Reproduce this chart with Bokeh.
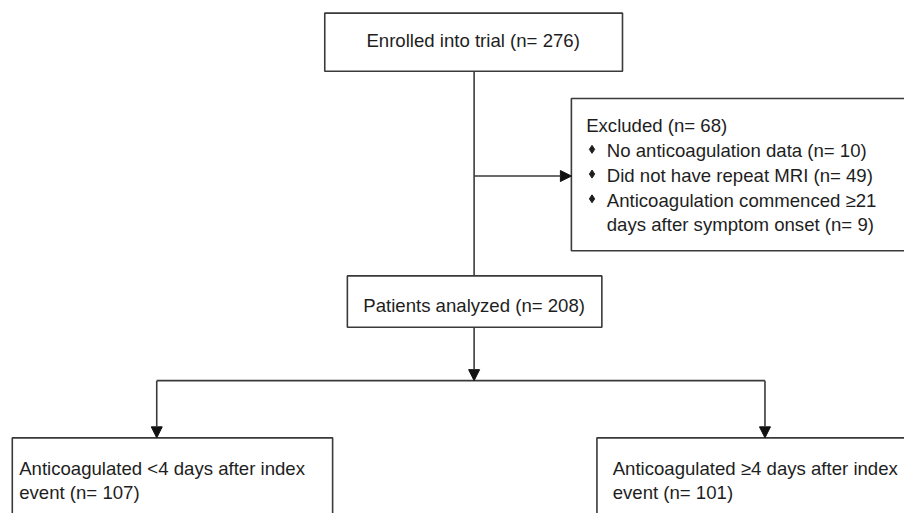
from bokeh.plotting import figure
from bokeh.models import Range1d, Arrow, NormalHead
from bokeh.core.properties import value
from bokeh.embed import file_html
from bokeh.resources import INLINE

# ---- content ----
enrolled_label = "Enrolled into trial"
enrolled_n = 276
excluded_label = "Excluded"
excluded_n = 68
excluded_reasons = ["No anticoagulation data", "Did not have repeat MRI",
                    "Anticoagulation commenced \u226521\n days after symptom onset"]
excluded_counts = [10, 49, 9]
analyzed_label = "Patients analyzed"
analyzed_n = 208
group_labels = ["Anticoagulated <4 days after index\nevent", "Anticoagulated \u22654 days after index\nevent"]
group_counts = [107, 101]

FONT = value("Liberation Sans")
FS = "18.6px"
TXT = "#1e1e1e"
LN = "#3a3a3a"
MID = 5.7  # baseline -> middle offset

p = figure(width=904, height=513, x_range=Range1d(0, 920), y_range=Range1d(529, 0),
           output_backend="svg", toolbar_location=None, min_border=0)
p.axis.visible = False
p.grid.visible = False
p.outline_line_color = None
p.background_fill_color = "white"
p.border_fill_color = "white"

def box(l, r, t, b):
    p.quad(left=[l], right=[r], top=[t], bottom=[b], fill_color="white",
           line_color=LN, line_width=1.6)

def txt(x, y, s, align="left"):
    p.text(x=[x], y=[y - MID], text=[s], text_font=FONT, text_font_size=FS,
           text_color=TXT, text_align=align, text_baseline="middle")

def seg(x0, y0, x1, y1):
    p.segment(x0=[x0], y0=[y0], x1=[x1], y1=[y1], line_color=LN, line_width=1.6)

def arrow(x0, y0, x1, y1):
    p.add_layout(Arrow(x_start=x0, y_start=y0, x_end=x1, y_end=y1,
                       line_color=LN, line_width=1.6,
                       end=NormalHead(size=11, fill_color="#111111", line_color="#111111", line_width=1)))

# connectors
seg(482, 73, 482, 284)
arrow(482, 181, 581, 181)
arrow(482, 337, 482, 392)
seg(159, 392, 778, 392)
arrow(159, 392, 159, 451)
arrow(778, 392, 778, 451)

# top box
box(330, 633, 13, 73)
txt(481, 47, f"{enrolled_label} (n= {enrolled_n})", "center")

# excluded box
box(581, 935, 101, 258)
txt(596, 135, f"{excluded_label} (n= {excluded_n})")
bl = [160.5, 186, 211.5]
for i, (r, c) in enumerate(zip(excluded_reasons, excluded_counts)):
    parts = r.split("\n")
    lines = parts[:-1] + [f"{parts[-1]} (n= {c})"]
    y0 = bl[i]
    p.scatter(x=[602], y=[y0 - 7], marker="diamond", size=8, color=TXT)
    for j, s in enumerate(lines):
        txt(617, y0 + j * 25.5, s)

# analyzed box
box(353, 612, 284, 337)
txt(482, 320, f"{analyzed_label} (n= {analyzed_n})", "center")

# bottom boxes
box(12, 338, 451, 545)
box(607, 935, 451, 545)
for x0, lab, c in zip([19, 623], group_labels, group_counts):
    a, b = lab.split("\n")
    txt(x0, 488, a)
    txt(x0, 513, f"{b} (n= {c})")

open("out.html", "w").write(file_html(p, INLINE))
